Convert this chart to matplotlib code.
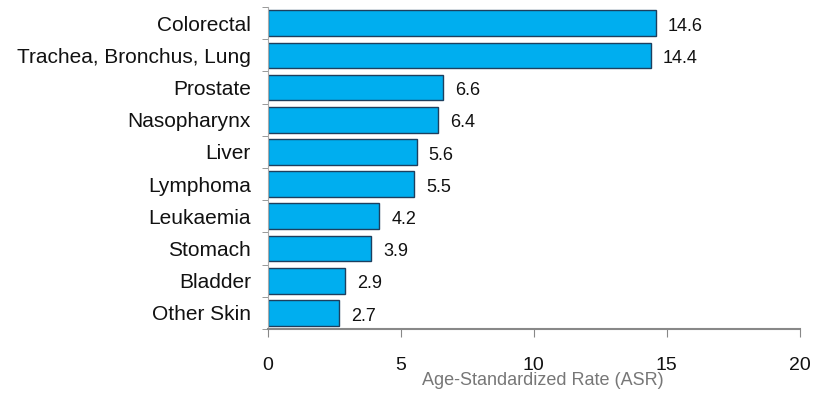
import matplotlib
matplotlib.use("Agg")
import matplotlib.pyplot as plt
import numpy as np

# data
sites = ["Colorectal", "Trachea, Bronchus, Lung", "Prostate", "Nasopharynx", "Liver",
         "Lymphoma", "Leukaemia", "Stomach", "Bladder", "Other Skin"]
asr = [14.6, 14.4, 6.6, 6.4, 5.6, 5.5, 4.2, 3.9, 2.9, 2.7]
xticks = [0, 5, 10, 15, 20]

plt.rcParams['font.family'] = ['Liberation Sans', 'DejaVu Sans']

fig = plt.figure(figsize=(8.16, 3.94), dpi=100)
ax = fig.add_axes([0.328, 0.165, 0.652, 0.817])

y = np.arange(len(sites))
ax.barh(y, asr, height=0.8, color="#00aeef", edgecolor="#1d3f5e", linewidth=1.0)

for yi, v in zip(y, asr):
    ax.text(v + 0.45, yi + 0.1, f"{v}", va="center", ha="left", fontsize=13, color="#111111")

ax.set_ylim(len(sites) - 0.5, -0.5)
ax.set_xlim(0, 20)
ax.set_yticks(y)
ax.set_yticklabels(sites, fontsize=15, color="#111111")
ax.set_yticks(np.arange(len(sites) + 1) - 0.5, minor=True)
ax.tick_params(axis="y", which="major", length=0, pad=12)
ax.tick_params(axis="y", which="minor", length=4, color="#888888")

ax.set_xticks(xticks)
ax.set_xticklabels([str(t) for t in xticks], fontsize=14, color="#111111")
ax.tick_params(axis="x", length=6, color="#888888", pad=14)
fig.text(0.665, 0.012, "Age-Standardized Rate (ASR)", fontsize=13, color="#777777",
         ha="center", va="bottom")

for s in ["top", "right"]:
    ax.spines[s].set_visible(False)
ax.spines["bottom"].set_color("#888888")
ax.spines["bottom"].set_linewidth(1.5)
ax.spines["left"].set_color("#aaaaaa")
ax.spines["left"].set_linewidth(0.8)

fig.savefig("out.png", dpi=100)
